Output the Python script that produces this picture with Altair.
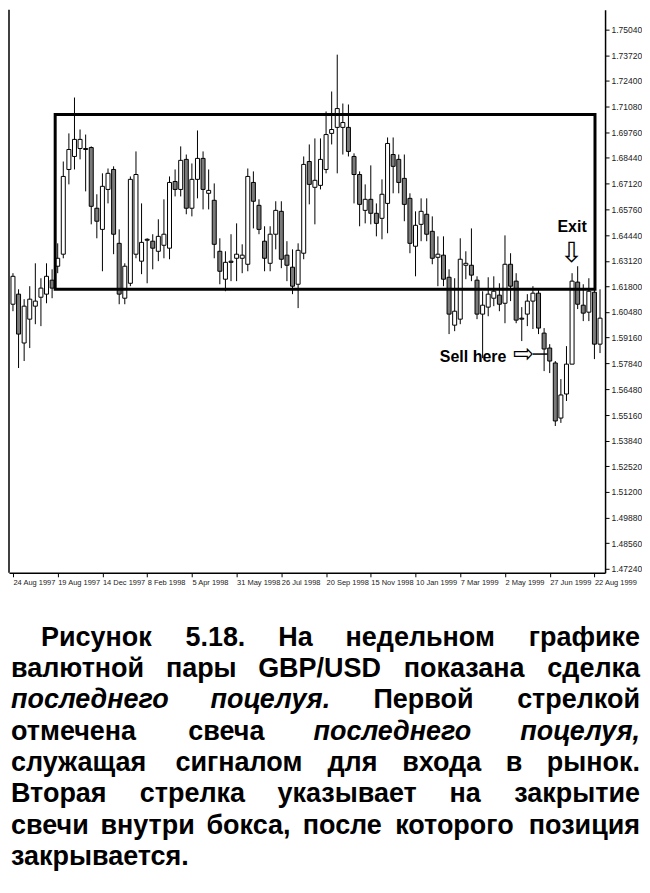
import altair as alt
import pandas as pd

# ---------------- data (weekly GBP/USD candles) ----------------
opens = [1.6088,1.6140,1.5888,1.6011,1.6078,1.6124,1.6140,1.6212,1.6284,1.6346,
         1.6783,1.6850,1.6891,1.6891,1.6896,1.6583,1.6474,1.6680,1.6783,1.6402,
         1.6119,1.6196,1.6346,1.6310,1.6423,1.6413,1.6361,1.6392,1.6377,1.6721,
         1.6680,1.6835,1.6583,1.6732,1.6840,1.6660,1.6624,1.6361,1.6217,1.6310,
         1.6325,1.6325,1.6294,1.6716,1.6598,1.6413,1.6299,1.6449,1.6567,1.6341,
         1.6279,1.6191,1.6351,1.6824,1.6691,1.6701,1.6783,1.6969,1.7000,1.7000,
         1.7000,1.6850,1.6757,1.6572,1.6629,1.6557,1.6531,1.6608,1.6860,1.6835,
         1.6737,1.6634,1.6387,1.6500,1.6552,1.6464,1.6330,1.6341,1.6227,1.5980,
         1.6011,1.6289,1.6289,1.6212,1.6037,1.6073,1.6119,1.6135,1.6093,1.6294,
         1.6207,1.6016,1.6037,1.6104,1.6145,1.5939,1.5862,1.5785,1.5501,1.5625,
         1.5779,1.6202,1.6083,1.6047,1.6150,1.5882]
highs = [1.6248,1.6165,1.6114,1.6181,1.6299,1.6222,1.6299,1.6268,1.6402,1.6824,
         1.6969,1.7154,1.6989,1.6963,1.6902,1.6655,1.6763,1.6788,1.6799,1.6474,
         1.6299,1.6747,1.6876,1.6608,1.6428,1.6449,1.6526,1.6629,1.6747,1.6783,
         1.6902,1.6860,1.6814,1.6984,1.6876,1.6783,1.6711,1.6428,1.6361,1.6449,
         1.6505,1.6397,1.6788,1.6773,1.6629,1.6490,1.6490,1.6619,1.6619,1.6413,
         1.6371,1.6402,1.6850,1.6912,1.6943,1.6943,1.7082,1.7185,1.7375,1.7123,
         1.7118,1.6866,1.6773,1.6706,1.6804,1.6608,1.6732,1.6948,1.6948,1.6860,
         1.6860,1.6660,1.6567,1.6634,1.6634,1.6541,1.6438,1.6438,1.6268,1.6222,
         1.6428,1.6361,1.6479,1.6232,1.6155,1.6227,1.6232,1.6196,1.6443,1.6351,
         1.6248,1.6073,1.6140,1.6181,1.6165,1.5965,1.5882,1.5795,1.5702,1.5872,
         1.6248,1.6284,1.6191,1.6222,1.6165,1.6165]
lows = [1.6052,1.5759,1.5795,1.5862,1.5985,1.5975,1.6093,1.6119,1.6248,1.6325,
        1.6706,1.6783,1.6835,1.6670,1.6500,1.6428,1.6258,1.6608,1.6346,1.6088,
        1.6088,1.6181,1.6325,1.6243,1.6196,1.6268,1.6310,1.6325,1.6320,1.6644,
        1.6644,1.6552,1.6541,1.6634,1.6577,1.6577,1.6325,1.6191,1.6155,1.6207,
        1.6207,1.6248,1.6258,1.6479,1.6449,1.6258,1.6258,1.6371,1.6274,1.6207,
        1.6140,1.6068,1.6320,1.6603,1.6500,1.6680,1.6763,1.6912,1.6763,1.6860,
        1.6850,1.6608,1.6490,1.6505,1.6500,1.6438,1.6423,1.6454,1.6660,1.6660,
        1.6516,1.6351,1.6232,1.6413,1.6413,1.6294,1.6181,1.6181,1.5934,1.5949,
        1.5985,1.6217,1.6207,1.6011,1.5810,1.6026,1.6078,1.6052,1.5990,1.6104,
        1.5990,1.5898,1.5975,1.5960,1.5934,1.5743,1.5733,1.5460,1.5476,1.5589,
        1.5779,1.6063,1.6001,1.6001,1.5805,1.5836]
closes = [1.6232,1.5934,1.6078,1.6114,1.6104,1.6171,1.6232,1.6171,1.6325,1.6747,
          1.6886,1.6938,1.6938,1.6886,1.6593,1.6516,1.6696,1.6763,1.6449,1.6140,
          1.6284,1.6732,1.6757,1.6407,1.6418,1.6377,1.6438,1.6449,1.6716,1.6680,
          1.6830,1.6583,1.6732,1.6840,1.6680,1.6675,1.6397,1.6258,1.6304,1.6304,
          1.6346,1.6341,1.6747,1.6619,1.6474,1.6325,1.6449,1.6572,1.6320,1.6289,
          1.6181,1.6366,1.6809,1.6706,1.6727,1.6835,1.6963,1.6989,1.7097,1.7025,
          1.6876,1.6757,1.6603,1.6629,1.6557,1.6505,1.6655,1.6917,1.6799,1.6716,
          1.6603,1.6402,1.6495,1.6567,1.6449,1.6325,1.6346,1.6217,1.6037,1.6052,
          1.6320,1.6299,1.6238,1.6037,1.6083,1.6140,1.6155,1.6088,1.6294,1.6181,
          1.6006,1.6011,1.6104,1.6145,1.5965,1.5857,1.5795,1.5486,1.5620,1.5779,
          1.6207,1.6088,1.6042,1.6155,1.5882,1.6016]
weeks = list(range(len(opens)))

x_tick_weeks = [0, 8, 16, 24, 32, 40, 48, 56, 64, 72, 80, 88, 96, 104]
x_tick_labels = ["24 Aug 1997", "19 Aug 1997", "14 Dec 1997", "8 Feb 1998", "5 Apr 1998",
                 "31 May 1998", "26 Jul 1998", "20 Sep 1998", "15 Nov 1998", "10 Jan 1999",
                 "7 Mar 1999", "2 May 1999", "27 Jun 1999", "22 Aug 1999"]
y_ticks = [1.75040, 1.73720, 1.72400, 1.71080, 1.69760, 1.68440, 1.67120, 1.65760,
           1.64440, 1.63120, 1.61800, 1.60480, 1.59160, 1.57840, 1.56480, 1.55160,
           1.53840, 1.52520, 1.51200, 1.49880, 1.48560, 1.47240]

# trading range box (week from/to, price low/high)
box_weeks = [7.55, 104.1]
box_prices = [1.6165, 1.7066]

# annotations
exit_label = ["Exit"]
exit_pos = [100.0, 1.6485]
exit_arrow_pos = [99.9, 1.6346]
sell_label = ["Sell here"]
sell_pos = [82.3, 1.5815]
sell_arrow_pos = [91.3, 1.5831]
sell_line_weeks = [93.0, 95.6]

caption_lines = [
    [("Рисунок", 0), ("5.18.", 0), ("На", 0), ("недельном", 0), ("графике", 0)],
    [("валютной", 0), ("пары", 0), ("GBP/USD", 0), ("показана", 0), ("сделка", 0)],
    [("последнего", 1), ("поцелуя.", 1), ("Первой", 0), ("стрелкой", 0)],
    [("отмечена", 0), ("свеча", 0), ("последнего", 1), ("поцелуя,", 1)],
    [("служащая", 0), ("сигналом", 0), ("для", 0), ("входа", 0), ("в", 0), ("рынок.", 0)],
    [("Вторая", 0), ("стрелка", 0), ("указывает", 0), ("на", 0), ("закрытие", 0)],
    [("свечи", 0), ("внутри", 0), ("бокса,", 0), ("после", 0), ("которого", 0), ("позиция", 0)],
    [("закрывается.", 0)],
]

# ---------------- layout ----------------
W, H = 597, 564
FONT = "Liberation Sans"

df = pd.DataFrame({"week": weeks, "open": opens, "high": highs, "low": lows, "close": closes})

xs = alt.Scale(domain=[-0.71, 105.9], nice=False, zero=False, padding=0)
ys = alt.Scale(domain=[1.4703, 1.7607], nice=False, zero=False, padding=0)

label_arr = "[" + ",".join("'" + s + "'" for s in x_tick_labels) + "]"
xaxis = alt.Axis(values=x_tick_weeks, labelExpr=label_arr + "[round(datum.value/8)]",
                 labelAlign="left", labelFont=FONT, labelFontSize=7.5, labelColor="#222",
                 tickSize=4, tickColor="black", domainColor="black", domainWidth=1.5,
                 labelPadding=2, labelOverlap=False, labelFlush=False, grid=False, title=None)
yaxis = alt.Axis(orient="right", values=y_ticks, format=".5f", labelFont=FONT,
                 labelFontSize=8.5, labelColor="#222", tickSize=4, tickColor="black",
                 domainColor="black", domainWidth=1.5, labelPadding=2, labelOverlap=False,
                 labelFlush=False, grid=False, title=None)


def X(f):
    return alt.X(f, scale=xs, axis=xaxis)


def Y(f):
    return alt.Y(f, scale=ys, axis=yaxis)


wicks = alt.Chart(df).mark_rule(color="black", strokeWidth=1).encode(
    x=X("week:Q"), y=Y("low:Q"), y2="high:Q")
bodies = alt.Chart(df).mark_bar(size=4, stroke="black", strokeWidth=1).encode(
    x=X("week:Q"), y=Y("open:Q"), y2="close:Q",
    fill=alt.condition("datum.close >= datum.open", alt.value("white"), alt.value("#7a7a7a")),
)
box_df = pd.DataFrame({"x": [box_weeks[0]], "x2": [box_weeks[1]],
                       "y": [box_prices[0]], "y2": [box_prices[1]]})
box = alt.Chart(box_df).mark_rect(fill="transparent", stroke="black", strokeWidth=3).encode(
    x=X("x:Q"), x2="x2:Q", y=Y("y:Q"), y2="y2:Q")

left_frame = alt.Chart(pd.DataFrame({"a": [0]})).mark_rule(color="black", strokeWidth=1.5).encode(
    x=alt.value(0), y=alt.value(0), y2=alt.value(H))

ann_df = pd.DataFrame({
    "x": [exit_pos[0], sell_pos[0]],
    "y": [exit_pos[1], sell_pos[1]],
    "t": [exit_label[0], sell_label[0]],
})
ann_text = alt.Chart(ann_df).mark_text(font=FONT, fontWeight="bold", fontSize=16,
                                       color="black", baseline="middle").encode(
    x=X("x:Q"), y=Y("y:Q"), text="t:N")

exit_arrow = alt.Chart(pd.DataFrame({"x": [exit_arrow_pos[0]], "y": [exit_arrow_pos[1]],
                                     "t": ["\u21e9"]})).mark_text(
    font="DejaVu Sans", fontSize=28, color="black", baseline="middle").encode(
    x=X("x:Q"), y=Y("y:Q"), text="t:N")
sell_arrow = alt.Chart(pd.DataFrame({"x": [sell_arrow_pos[0]], "y": [sell_arrow_pos[1]],
                                     "t": ["\u21e8"]})).mark_text(
    font="DejaVu Sans", fontSize=25, color="black", baseline="middle").encode(
    x=X("x:Q"), y=Y("y:Q"), text="t:N")

sell_line = alt.Chart(pd.DataFrame({"x": [sell_line_weeks[0]], "x2": [sell_line_weeks[1]],
                                    "y": [sell_arrow_pos[1]]})).mark_rule(
    color="black", strokeWidth=1.5).encode(x=X("x:Q"), x2="x2:Q", y=Y("y:Q"))

main = alt.layer(wicks, bodies, box, left_frame, sell_line, ann_text, exit_arrow, sell_arrow)

# ---------------- caption (justified paragraph) ----------------
CAP_SIZE = 27
cw = {' ': 278, '.': 278, ',': 278, '/': 278, 'G': 778, 'B': 722, 'P': 667, 'U': 722,
      'S': 667, 'D': 722, 'Р': 667, 'Н': 722, 'П': 722, 'В': 722,
      'а': 556, 'б': 611, 'в': 583, 'г': 417, 'д': 635, 'е': 556, 'ж': 833, 'з': 531,
      'и': 615, 'й': 615, 'к': 521, 'л': 615, 'м': 760, 'н': 615, 'о': 611, 'п': 615,
      'р': 611, 'с': 556, 'т': 490, 'у': 556, 'ф': 885, 'х': 556, 'ц': 635, 'ч': 583,
      'ш': 885, 'щ': 906, 'ъ': 708, 'ы': 823, 'ь': 583, 'э': 556, 'ю': 865, 'я': 583}
for d in "0123456789":
    cw[d] = 556


def wwidth(w):
    return sum(cw.get(c, 600) for c in w) * CAP_SIZE / 1000.0


rows = []
right_edge = 640 - 8
for k, line in enumerate(caption_lines):
    start = (40 if k == 0 else 10) - 8
    yk = 629 + 31.4 * k
    if len(line) == 1:
        rows.append({"px": start, "py": yk, "t": line[0][0], "it": line[0][1], "anc": "left"})
        continue
    widths = [wwidth(w) for w, _ in line]
    gap = (right_edge - start - sum(widths)) / (len(line) - 1)
    cur = start
    for i, ((w, it), wd) in enumerate(zip(line, widths)):
        if i == 0:
            rows.append({"px": start, "py": yk, "t": w, "it": it, "anc": "left"})
        elif i == len(line) - 1:
            rows.append({"px": right_edge, "py": yk, "t": w, "it": it, "anc": "right"})
        else:
            rows.append({"px": cur + wd / 2, "py": yk, "t": w, "it": it, "anc": "center"})
        cur += wd + gap
cap_df = pd.DataFrame(rows)

cap_layers = []
for anc in ["left", "center", "right"]:
    for it in [0, 1]:
        sub = cap_df[(cap_df.anc == anc) & (cap_df.it == it)]
        if len(sub) == 0:
            continue
        kw = dict(font=FONT, fontWeight="bold", fontSize=CAP_SIZE, color="black",
                  align=anc, baseline="middle")
        if it:
            kw["fontStyle"] = "italic"
        cap_layers.append(alt.Chart(sub).mark_text(**kw).encode(
            x=alt.X("px:Q", scale=None, axis=None),
            y=alt.Y("py:Q", scale=None, axis=None),
            text="t:N"))

caption = alt.layer(*cap_layers)

chart = alt.layer(main, caption).resolve_scale(x="independent", y="independent").properties(
    width=W, height=H, padding=0, background="white"
).configure_view(stroke=None).configure_axis(labelOverlap=False)

chart.save("out.html", embed_options={"renderer": "svg", "actions": False})
